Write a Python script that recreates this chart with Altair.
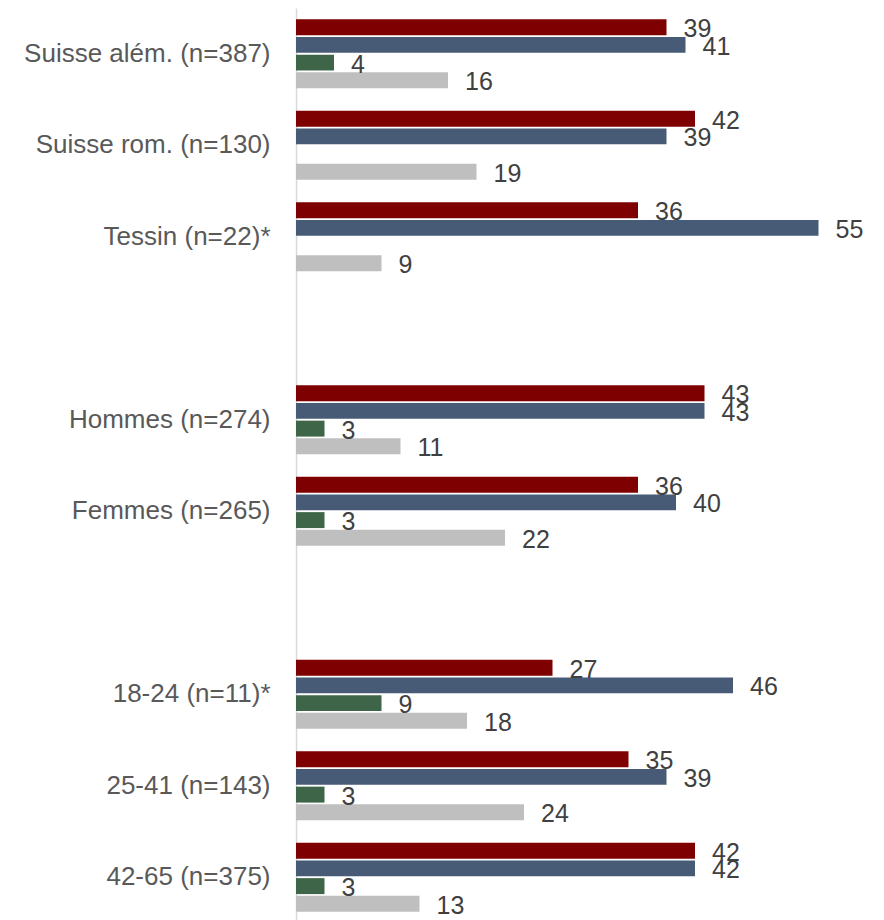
import altair as alt
import pandas as pd

categories = ["Suisse além. (n=387)", "Suisse rom. (n=130)", "Tessin (n=22)*", "gap1",
              "Hommes (n=274)", "Femmes (n=265)", "gap2",
              "18-24 (n=11)*", "25-41 (n=143)", "42-65 (n=375)"]
groups = ["Suisse além. (n=387)", "Suisse rom. (n=130)", "Tessin (n=22)*",
          "Hommes (n=274)", "Femmes (n=265)",
          "18-24 (n=11)*", "25-41 (n=143)", "42-65 (n=375)"]
series = ["Série 1", "Série 2", "Série 3", "Série 4"]
s1 = [39, 42, 36, 43, 36, 27, 35, 42]
s2 = [41, 39, 55, 43, 40, 46, 39, 42]
s3 = [4, None, None, 3, 3, 9, 3, 3]
s4 = [16, 19, 9, 11, 22, 18, 24, 13]
colors = ["#7f0000", "#475b77", "#3f6548", "#bfbfbf"]

rows = []
for name, vals in zip(series, [s1, s2, s3, s4]):
    for g, v in zip(groups, vals):
        if v is not None:
            rows.append({"cat": g, "series": name, "value": v})
df = pd.DataFrame(rows)

y = alt.Y("cat:N", scale=alt.Scale(domain=categories, paddingInner=0, paddingOuter=0),
          axis=alt.Axis(title=None, ticks=False, labelFontSize=26, labelColor="#595959",
                        labelFont="Liberation Sans", labelPadding=26, labelLimit=0,
                        domainColor="#d9d9d9", domainWidth=1.5,
                        labelExpr="indexof(datum.value, 'gap') >= 0 ? '' : datum.value"))
yoff = alt.YOffset("series:N", scale=alt.Scale(domain=series, paddingInner=0.1, paddingOuter=0.63))
x = alt.X("value:Q", scale=alt.Scale(domain=[0, 60], nice=False), axis=None)

base = alt.Chart(df).encode(y=y, yOffset=yoff, x=x)
bars = base.mark_bar().encode(
    color=alt.Color("series:N", scale=alt.Scale(domain=series, range=colors), legend=None))
labels = base.mark_text(align="left", baseline="middle", dx=17, dy=2, fontSize=25,
                        font="Liberation Sans", color="#404040").encode(text="value:Q")

chart = (bars + labels).properties(
    width=570, height=915,
    padding={"left": 15, "top": 0, "right": 5, "bottom": 0}
).configure_view(stroke=None)

chart.save("out.html", embed_options={"renderer": "svg", "actions": False})
